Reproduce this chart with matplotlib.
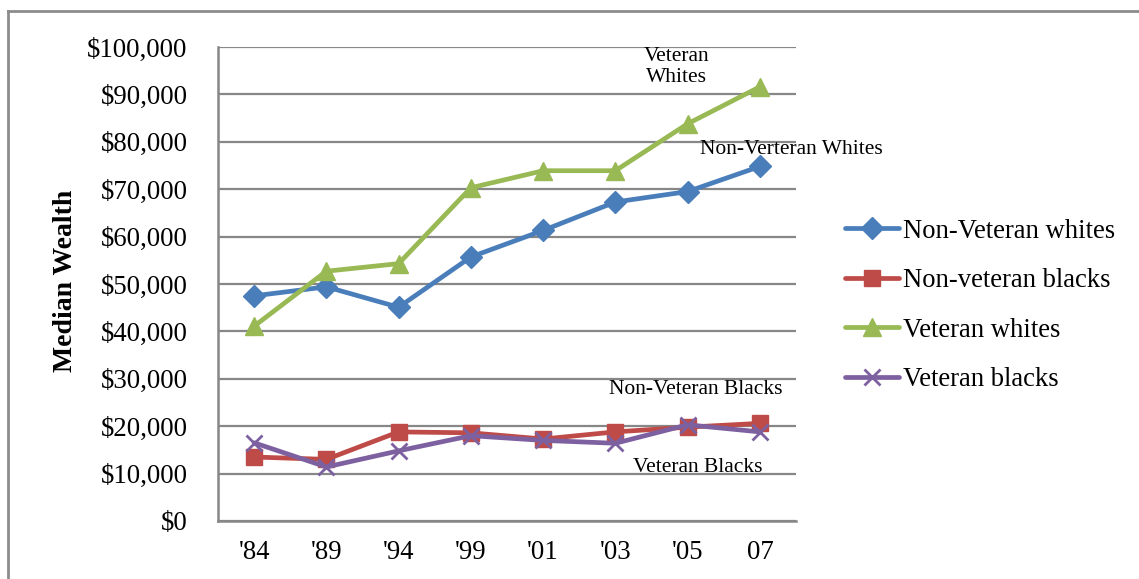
import matplotlib
matplotlib.use("Agg")
import matplotlib.pyplot as plt
from matplotlib.lines import Line2D

plt.rcParams['font.family'] = ['Liberation Serif', 'DejaVu Serif']

years = ["'84", "'89", "'94", "'99", "'01", "'03", "'05", "07"]
nonvet_whites = [47500, 49400, 45100, 55700, 61300, 67300, 69500, 74800]
nonvet_blacks = [13500, 13000, 18800, 18600, 17300, 18800, 19800, 20600]
vet_whites = [41100, 52700, 54300, 70300, 73900, 73900, 83800, 91600]
vet_blacks = [16500, 11400, 14800, 18000, 17000, 16400, 20300, 18800]

yticks = list(range(0, 100001, 10000))
ytick_labels = ["$0"] + [f"${v:,}" for v in yticks[1:]]

W, H = 1139, 579
fig = plt.figure(figsize=(W / 100, H / 100), dpi=100)
ax = fig.add_axes([218 / W, 1 - 521 / H, (796 - 218) / W, (521 - 47) / H])

grid_c = '#878787'
x = list(range(len(years)))

series = [
    ("Non-Veteran whites", nonvet_whites, '#4A7EBB', 'D', 11),
    ("Non-veteran blacks", nonvet_blacks, '#BE4B48', 's', 12),
    ("Veteran whites", vet_whites, '#98B954', '^', 13),
    ("Veteran blacks", vet_blacks, '#7D60A0', 'x', 12),
]
handles = []
for name, vals, col, mk, ms in series:
    kw = dict(color=col, lw=3.4, marker=mk, markersize=ms,
              markerfacecolor=col, markeredgecolor=col, solid_capstyle='round')
    if mk == 'x':
        kw['markeredgewidth'] = 2.0
    ax.plot(x, vals, zorder=3, **kw)
    handles.append(Line2D([0], [0], label=name, **kw))

ax.set_xlim(-0.5, len(years) - 0.5)
ax.set_ylim(0, 100000)
ax.set_yticks(yticks)
ax.set_yticklabels(ytick_labels)
ax.set_xticks(x)
ax.set_xticklabels(years)
ax.tick_params(axis='both', length=0, labelsize=19.3, colors='black')
ax.tick_params(axis='y', pad=22)
ax.tick_params(axis='x', pad=14)
ax.yaxis.grid(True, color=grid_c, lw=1.6, zorder=0)
ax.set_axisbelow(True)
for s in ['top', 'right']:
    ax.spines[s].set_visible(False)
for s in ['left', 'bottom']:
    ax.spines[s].set_color(grid_c)
    ax.spines[s].set_linewidth(1.8)

fig.text(65 / W, 1 - 281 / H, "Median Wealth", rotation=90, fontsize=20,
         fontweight='bold', ha='center', va='center')

# inline series labels
ax.text(5.85, 95800, "Veteran\nWhites", fontsize=15.5, ha='center', va='center',
        linespacing=1.2)
ax.text(6.17, 78300, "Non-Verteran Whites", fontsize=15.5, ha='left', va='center')
ax.text(4.91, 27800, "Non-Veteran Blacks", fontsize=15.5, ha='left', va='center')
ax.text(5.25, 11200, "Veteran Blacks", fontsize=15.5, ha='left', va='center')

fig.legend(handles=handles, loc='upper left', bbox_to_anchor=(834 / W, 1 - 208 / H),
           frameon=False, fontsize=19.2, handlelength=2.05, handletextpad=0.12,
           labelspacing=0.92, borderaxespad=0)

# outer frame (top and left edges)
fig.add_artist(Line2D([8 / W, 1], [1 - 11 / H, 1 - 11 / H], color='#8c8c8c', lw=2))
fig.add_artist(Line2D([8 / W, 8 / W], [0, 1 - 11 / H], color='#8c8c8c', lw=2))

fig.savefig("out.png", dpi=100, facecolor='white')
